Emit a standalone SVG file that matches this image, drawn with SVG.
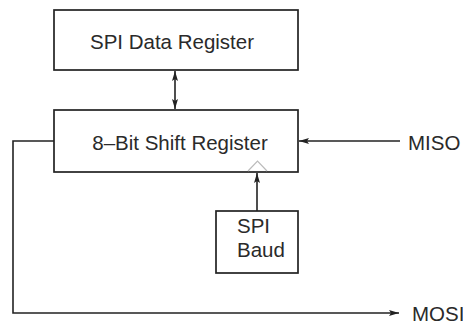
<svg xmlns="http://www.w3.org/2000/svg" width="463" height="324" viewBox="0 0 463 324">
<style>
.box{fill:#fff;stroke:#222;stroke-width:1.7}
.t{font-family:"Liberation Sans",Arial,sans-serif;font-size:20.5px;fill:#2a2a2a}
.ln{fill:none;stroke:#222;stroke-width:1.6}
</style>
<defs>
<marker id="ah" viewBox="0 0 10 10" refX="10" refY="5" markerWidth="10" markerHeight="10" markerUnits="userSpaceOnUse" orient="auto-start-reverse">
<path d="M0,2 L10,5 L0,8 L2,5 z" fill="#222"/>
</marker>
</defs>
<rect width="463" height="324" fill="#fff"/>
<g id="connectors">
<line class="ln" x1="175" y1="71" x2="175" y2="109" marker-start="url(#ah)" marker-end="url(#ah)"/>
<line class="ln" x1="400" y1="141" x2="299" y2="141" marker-end="url(#ah)"/>
<polyline class="ln" points="54,141 13,141 13,313 399,313" marker-end="url(#ah)"/>
<line class="ln" x1="257" y1="211" x2="257" y2="173" marker-end="url(#ah)"/>
</g>
<g id="spi-data-register">
<rect class="box" x="54" y="10" width="244" height="60"/>
<text class="t" x="172" y="49" text-anchor="middle">SPI Data Register</text>
</g>
<g id="shift-register">
<rect class="box" x="54" y="110" width="244" height="62"/>
<text class="t" x="180" y="150" text-anchor="middle">8–Bit Shift Register</text>
<polyline points="248,171 257.5,161 267,171" fill="none" stroke="#bbb" stroke-width="1.2"/>
</g>
<g id="spi-baud">
<rect class="box" x="216" y="211" width="82" height="62"/>
<text class="t" x="237" y="233">SPI</text>
<text class="t" x="237" y="257">Baud</text>
</g>
<g id="miso">
<text class="t" x="408" y="150">MISO</text>
</g>
<g id="mosi">
<text class="t" x="412" y="321">MOSI</text>
</g>
</svg>
